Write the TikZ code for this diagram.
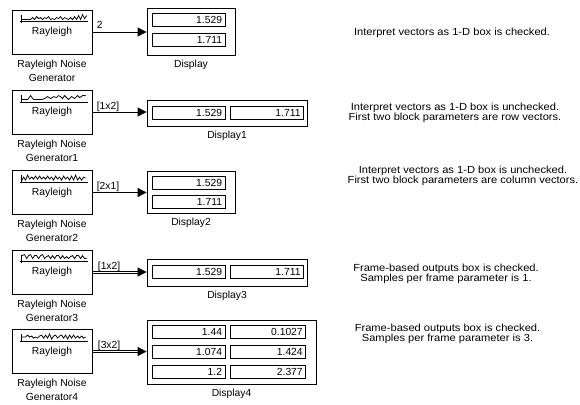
\documentclass[tikz,border=0pt]{standalone}
\usepackage{fontspec}
\setmainfont{Liberation Sans}
\newfontfamily\notefont{Liberation Sans}[FakeStretch=1.08]
\usetikzlibrary{arrows.meta}
\begin{document}
\begin{tikzpicture}[x=1pt,y=-1pt, line width=0.8pt,
  font=\fontsize{10.3}{10}\selectfont,
  gen/.style={draw, rectangle, minimum width=80pt, minimum height=44pt, inner sep=0pt},
  disp/.style={draw, rectangle, inner sep=0pt},
  fld/.style={draw, rectangle, inner ysep=0pt, inner xsep=3pt, minimum height=13pt, text width=67pt, align=right},
  fldw/.style={fld, text width=69pt},
  glab/.style={anchor=base, align=center, font=\fontsize{10.3}{14}\selectfont, yshift=-26.7pt},
  dlab/.style={anchor=base, yshift=-11.7pt},
  note/.style={anchor=base, align=center, font=\notefont\fontsize{10.3}{10}\selectfont},
  elab/.style={anchor=base west, pos=0, xshift=4pt, yshift=3pt, inner sep=0pt, text=black},
  sig/.style={draw, -{Triangle[length=9pt,width=9pt]}},
  tip/.style={sig, shorten <=46pt},
  dblout/.style={draw, line width=3pt, shorten >=8pt},
  dblin/.style={draw=white, line width=1pt, shorten >=7pt, shorten <=0.4pt},
  wv/.style={line width=0.75pt}
]
\useasboundingbox (0,0) rectangle (580,404);

% generators
\node[gen] (g1) at (52,32) {Rayleigh};
\node[gen] (g2) at (52,112) {Rayleigh};
\node[gen] (g3) at (52,192.5) {Rayleigh};
\node[gen] (g4) at (52,272) {Rayleigh};
\node[gen] (g5) at (52,351.5) {Rayleigh};

\node[glab] (g1l) at (g1.south) {Rayleigh Noise\\Generator};
\node[glab] (g2l) at (g2.south) {Rayleigh Noise\\Generator1};
\node[glab] (g3l) at (g3.south) {Rayleigh Noise\\Generator2};
\node[glab] (g4l) at (g4.south) {Rayleigh Noise\\Generator3};
\node[glab] (g5l) at (g5.south) {Rayleigh Noise\\Generator4};

% wave icons
\begin{scope}[shift={(g1.north west)}]
  \draw[wv] (8,12) -- (76,12);
  \draw[wv] (10,5) -- (10,13);
  \draw[wv] plot coordinates {(10,10) (19,10) (21,8) (23,10) (25,7) (27,9) (29,8) (31,10) (33,8) (35,9) (37,7) (39,10) (41,9) (43,10) (45,8) (47,9) (49,7) (51,10) (53,8) (55,9) (57,10) (59,8) (61,10) (63,7) (65,10) (67,6) (69,10) (71,5) (73,9) (75,6)};
\end{scope}
\begin{scope}[shift={(g2.north west)}]
  \draw[wv] (8,12.5) -- (76,12.5);
  \draw[wv] (10,5) -- (10,13);
  \draw[wv] plot coordinates {(10,10) (16,10) (19,6) (22,10) (30,10) (33,9) (36,7) (39,9) (42,7) (45,8) (47,6) (49,7) (51,9) (53,6) (55,8) (57,10) (60,7) (63,9) (66,6) (68,8) (71,6) (74,6)};
\end{scope}
\begin{scope}[shift={(g3.north west)}]
  \draw[wv] (8,12) -- (76,12);
  \draw[wv] (10,5) -- (10,13);
  \draw[wv] plot coordinates {(10,11) (12,7) (14,10) (16,5) (18,9) (20,7) (22,9) (24,6) (26,9) (28,6) (30,9) (32,7) (34,9) (36,6) (38,9) (40,7) (42,10) (44,6) (46,9) (48,7) (50,10) (52,6) (54,9) (56,7) (58,10) (60,6) (62,10) (64,5) (66,10) (68,7) (70,10) (72,7) (74,8)};
\end{scope}
\begin{scope}[shift={(g4.north west)}]
  \draw[wv] (8,12) -- (76,12);
  \draw[wv] (10,5) -- (10,13);
  \draw[wv] plot coordinates {(10,6) (13,5) (15,9) (17,6) (19,5) (21,9) (23,6) (25,6) (27,9) (29,6) (31,5) (33,9) (35,7) (37,6) (39,9) (41,6) (43,9) (45,6) (47,6) (49,9) (51,6) (53,9) (55,7) (57,9) (59,7) (61,6) (63,9) (65,6) (67,6) (69,9) (71,6) (73,9) (75,9)};
\end{scope}
\begin{scope}[shift={(g5.north west)}]
  \draw[wv] (8,12) -- (76,12);
  \draw[wv] (10,5) -- (10,13);
  \draw[wv] plot coordinates {(10,8) (14,8) (16,6) (18,8) (20,7) (22,9) (24,8) (26,9) (28,7) (30,6) (32,9) (34,6) (36,9) (38,5) (40,10) (42,7) (44,6) (46,9) (48,7) (50,6) (52,9) (54,6) (56,10) (58,6) (60,9) (62,6) (64,9) (66,7) (68,9) (70,7) (72,9) (74,8)};
\end{scope}

% displays
\node[disp, minimum width=88pt, minimum height=47pt] (d1) at (191,31.5) {};
\node[fld] (d1a) at (188.5,20.3) {1.529};
\node[fld] (d1b) at (188.5,40.3) {1.711};
\node[dlab] (d1l) at (d1.south) {Display};

\node[disp, minimum width=160pt, minimum height=26pt] (d2) at (227,113) {};
\node[fld] (d2a) at (188.5,112.5) {1.529};
\node[fld] (d2b) at (267,112.5) {1.711};
\node[dlab] (d2l) at (d2.south) {Display1};

\node[disp, minimum width=88pt, minimum height=41.5pt] (d3) at (191,192.5) {};
\node[fld] (d3a) at (188.5,183) {1.529};
\node[fld] (d3b) at (188.5,202) {1.711};
\node[dlab] (d3l) at (d3.south) {Display2};

\node[disp, minimum width=160pt, minimum height=27pt] (d4) at (227,272.7) {};
\node[fld] (d4a) at (188.5,271.7) {1.529};
\node[fld] (d4b) at (267,271.7) {1.711};
\node[dlab] (d4l) at (d4.south) {Display3};

\node[disp, minimum width=169pt, minimum height=64pt] (d5) at (231.5,352) {};
\node[fld] (d5a) at (188.5,331.5) {1.44};
\node[fldw] (d5b) at (268.2,331.5) {0.1027};
\node[fld] (d5c) at (188.5,351.5) {1.074};
\node[fldw] (d5d) at (268.2,351.5) {1.424};
\node[fld] (d5e) at (188.5,371.5) {1.2};
\node[fldw] (d5f) at (268.2,371.5) {2.377};
\node[dlab] (d5l) at (d5.south) {Display4};

% signals
\draw[sig] (g1.east) -- node[elab] {2} (g1.east -| d1.west);
\draw[sig] (g2.east) -- node[elab] {[1x2]} (g2.east -| d2.west);
\draw[sig] (g3.east) -- node[elab] {[2x1]} (g3.east -| d3.west);
% frame-based (double) signals
\draw[dblout] (g4.east) -- node[elab] {[1x2]} (g4.east -| d4.west);
\draw[dblin] (g4.east) -- (g4.east -| d4.west);
\draw[tip] (g4.east) -- (g4.east -| d4.west);
\draw[dblout] (g5.east) -- node[elab] {[3x2]} (g5.east -| d5.west);
\draw[dblin] (g5.east) -- (g5.east -| d5.west);
\draw[tip] (g5.east) -- (g5.east -| d5.west);

% notes
\node[note] (t1) at (452,36) {Interpret vectors as 1-D box is checked.};
\node[note] (t2) at (455,120) {Interpret vectors as 1-D box is unchecked.\\First two block parameters are row vectors.};
\node[note] (t3) at (463,183.3) {Interpret vectors as 1-D box is unchecked.\\First two block parameters are column vectors.};
\node[note] (t4) at (446,281.7) {Frame-based outputs box is checked.\\Samples per frame parameter is 1.};
\node[note] (t5) at (447.5,341.7) {Frame-based outputs box is checked.\\Samples per frame parameter is 3.};
\end{tikzpicture}
\end{document}
